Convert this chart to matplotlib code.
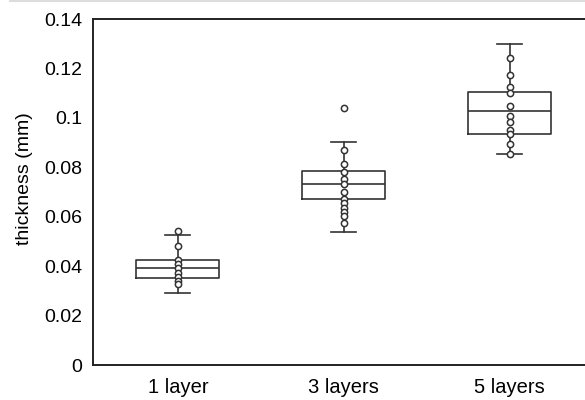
import matplotlib.pyplot as plt
from matplotlib.ticker import FuncFormatter
from matplotlib.lines import Line2D

plt.rcParams['font.family'] = ['Liberation Sans', 'DejaVu Sans']

# box summary stats
labels = ['1 layer', '3 layers', '5 layers']
whis_lo = [0.0293, 0.0537, 0.0853]
q1 = [0.0351, 0.0672, 0.0935]
med = [0.0394, 0.0731, 0.1027]
q3 = [0.0425, 0.0784, 0.1103]
whis_hi = [0.0526, 0.0902, 0.1298]

# individual measurements shown as open circles
pts_1 = [0.0544, 0.0482, 0.0425, 0.0409, 0.0393, 0.0374, 0.0358, 0.0341, 0.0327]
pts_3 = [0.1039, 0.0870, 0.0812, 0.0782, 0.0753, 0.0731, 0.0699, 0.0672,
         0.0654, 0.0637, 0.0620, 0.0602, 0.0576]
pts_5 = [0.1244, 0.1174, 0.1126, 0.1099, 0.1048, 0.1009, 0.0982, 0.0951,
         0.0935, 0.0893, 0.0853]

fig = plt.figure(figsize=(5.85, 4), dpi=100)
ax = fig.add_axes([93 / 585, 35 / 400, 501 / 585, 346 / 400])

stats = []
for i in range(3):
    stats.append(dict(label=labels[i], whislo=whis_lo[i], q1=q1[i], med=med[i],
                      q3=q3[i], whishi=whis_hi[i], fliers=[]))

lc = '#333333'
ax.bxp(stats, positions=[1, 2, 3], widths=0.5, showfliers=False,
       boxprops=dict(color=lc, linewidth=1.2),
       medianprops=dict(color=lc, linewidth=1.2),
       whiskerprops=dict(color=lc, linewidth=1.2),
       capprops=dict(color=lc, linewidth=1.2), capwidths=0.15)

for i, pts in enumerate([pts_1, pts_3, pts_5]):
    ax.plot([i + 1] * len(pts), pts, 'o', ms=4.5, mfc='white', mec='#333333',
            mew=1.1, zorder=5)

ax.set_xlim(0.488, 3.508)
ax.set_ylim(0, 0.14)
ax.set_yticks([0, 0.02, 0.04, 0.06, 0.08, 0.1, 0.12, 0.14])
ax.yaxis.set_major_formatter(FuncFormatter(lambda v, p: f'{v:g}'))
ax.set_xticks([1, 2, 3])
ax.set_xticklabels(labels)
ax.tick_params(axis='y', length=0, labelsize=14, pad=8)
ax.tick_params(axis='x', length=0, labelsize=14.5, pad=9.5)
ax.set_ylabel('thickness (mm)', fontsize=14)
ax.yaxis.set_label_coords(-0.12, 0.54)
ax.spines['right'].set_visible(False)
for s in ['left', 'bottom', 'top']:
    ax.spines[s].set_linewidth(1.4)
    ax.spines[s].set_color('#222222')

fig.add_artist(Line2D([10 / 585, 1], [0.997, 0.997], color='#dddddd', lw=1.5))

fig.savefig('out.png', dpi=100)
